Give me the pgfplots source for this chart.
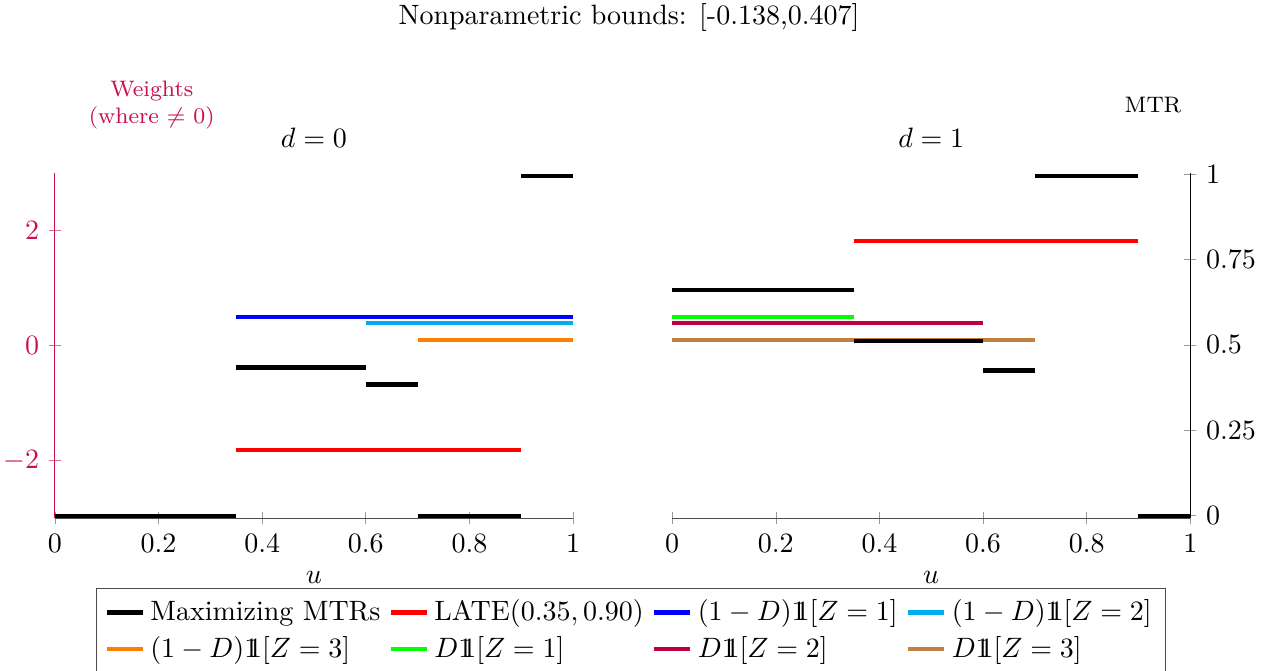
\documentclass[border=0pt]{standalone}
\usepackage{pgfplots}
\pgfplotsset{compat=1.18}
\newcommand{\ind}{\mathrm{1\mkern-6.5mu1}}

\definecolor{wcol}{RGB}{200,16,82}
\definecolor{skyb}{RGB}{0,174,239}
\definecolor{orng}{RGB}{255,128,0}
\definecolor{grn}{RGB}{0,255,0}
\definecolor{prpl}{RGB}{191,0,64}
\definecolor{brwn}{RGB}{191,128,64}

\pgfplotsset{
  panel/.style={
    scale only axis, width=185pt, height=123.2pt,
    xmin=0, xmax=1, clip=false,
    axis line style={-},
    tick align=inside,
    xtick={0,0.2,0.4,0.6,0.8,1},
    title style={yshift=-0.5pt},
  },
  wts/.style={ymin=-3, ymax=3},
  mtr/.style={ymin=-0.007, ymax=1.003},
  seg/.style={line width=1.5pt, unbounded coords=jump, forget plot},
}

\begin{document}
\begin{tikzpicture}
\useasboundingbox (-19.6pt,-54.3pt) rectangle (431pt,185pt);

\node at (205pt,178.6pt) {Nonparametric bounds: [-0.138,0.407]};

% ---- d = 0 : weights
\begin{axis}[panel, wts, at={(0pt,0pt)},
    axis x line=bottom, axis y line=left,
    ytick={-2,0,2},
    xlabel={$u$}, title={$d=0$},
    yticklabel style={text=wcol},
    y axis line style={-, wcol},
    x axis line style={-, black!70},
    ytick style={wcol!60}, xtick style={black!40},
]
\addplot[seg, red]  coordinates {(0.35,-1.818) (0.9,-1.818)};
\addplot[seg, blue] coordinates {(0.35,0.504) (1,0.504)};
\addplot[seg, skyb] coordinates {(0.6,0.40) (1,0.40)};
\addplot[seg, orng] coordinates {(0.7,0.104) (1,0.104)};
\node[font=\footnotesize, text=wcol, align=center] at (axis description cs:0.187,1.198) {Weights\\(where $\neq$ 0)};
\end{axis}
% ---- d = 0 : MTR
\begin{axis}[panel, mtr, at={(0pt,0pt)}, hide axis]
\addplot[seg, black] coordinates {
  (0,0) (0.35,0) (0.35,nan)
  (0.35,0.434) (0.6,0.434) (0.6,nan)
  (0.6,0.384) (0.7,0.384) (0.7,nan)
  (0.7,0) (0.9,0) (0.9,nan)
  (0.9,0.995) (1,0.995)};
\end{axis}

% ---- d = 1 : weights
\begin{axis}[panel, wts, at={(220.4pt,0pt)}, hide axis]
\addplot[seg, red]  coordinates {(0.35,1.818) (0.9,1.818)};
\addplot[seg, grn]  coordinates {(0,0.504) (0.35,0.504)};
\addplot[seg, prpl] coordinates {(0,0.40) (0.6,0.40)};
\addplot[seg, brwn] coordinates {(0,0.104) (0.7,0.104)};
\end{axis}
% ---- d = 1 : MTR
\begin{axis}[panel, mtr, at={(220.4pt,0pt)},
    axis x line=bottom, axis y line=right,
    ytick={0,0.25,0.5,0.75,1},
    xlabel={$u$}, title={$d=1$},
    x axis line style={-, black!70}, y axis line style={-, black},
    ytick style={black!40}, xtick style={black!40},
    legend columns=4, legend cell align=left,
    legend style={at={(axis description cs:-0.0795,-0.203)}, anchor=north,
      draw=black!70, /tikz/every even column/.append style={column sep=1pt}},
    legend image code/.code={\draw[#1] (0cm,0cm) -- (0.45cm,0cm);},
]
\addplot[seg, black] coordinates {
  (0,0.660) (0.35,0.660) (0.35,nan)
  (0.35,0.512) (0.6,0.512) (0.6,nan)
  (0.6,0.425) (0.7,0.425) (0.7,nan)
  (0.7,0.995) (0.9,0.995) (0.9,nan)
  (0.9,0) (1,0)};
\node[font=\footnotesize] at (axis description cs:0.928,1.197) {MTR};
\addlegendimage{line width=1.5pt, black}
\addlegendentry{Maximizing MTRs}
\addlegendimage{line width=1.5pt, red}
\addlegendentry{LATE$(0.35,0.90)$}
\addlegendimage{line width=1.5pt, blue}
\addlegendentry{$(1-D)\ind[Z=1]$}
\addlegendimage{line width=1.5pt, skyb}
\addlegendentry{$(1-D)\ind[Z=2]$}
\addlegendimage{line width=1.5pt, orng}
\addlegendentry{$(1-D)\ind[Z=3]$}
\addlegendimage{line width=1.5pt, grn}
\addlegendentry{$D\ind[Z=1]$}
\addlegendimage{line width=1.5pt, prpl}
\addlegendentry{$D\ind[Z=2]$}
\addlegendimage{line width=1.5pt, brwn}
\addlegendentry{$D\ind[Z=3]$}
\end{axis}
\end{tikzpicture}
\end{document}
